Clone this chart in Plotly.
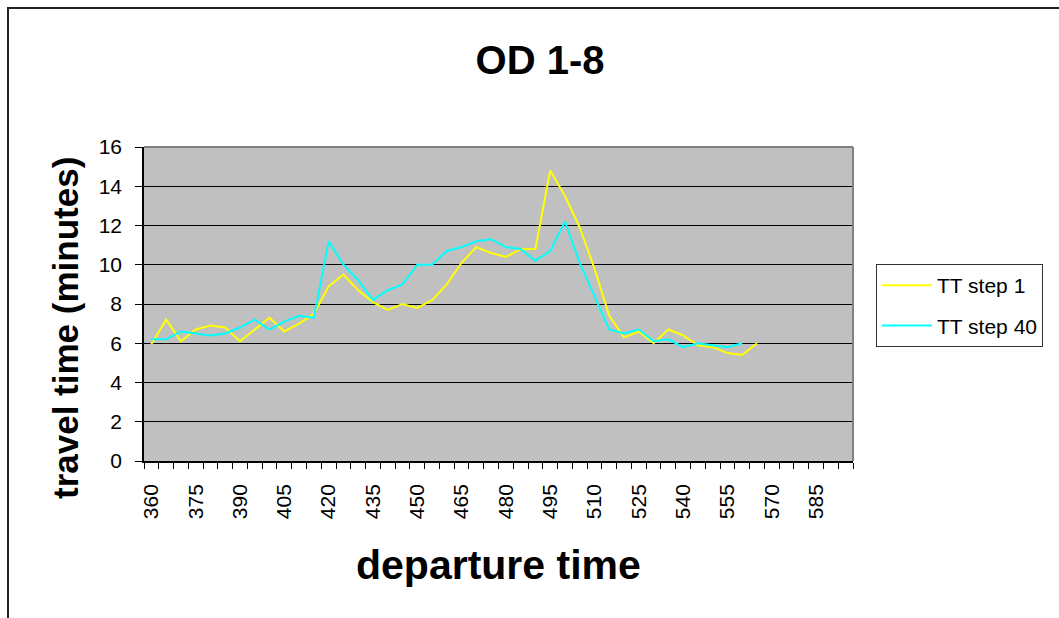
import plotly.graph_objects as go

# departure time categories (minutes), 5-minute steps
departure = list(range(360, 600, 5))  # 360..595
tick_labels = list(range(360, 600, 15))[:16]  # 360..585

tt_step1 = [5.95, 7.2, 6.1, 6.7, 6.9, 6.8, 6.1, 6.7, 7.3, 6.6, 7.0, 7.5,
            8.9, 9.5, 8.7, 8.1, 7.7, 8.0, 7.8, 8.2, 9.0, 10.1, 10.9, 10.6,
            10.4, 10.8, 10.8, 14.8, 13.5, 11.9, 9.8, 7.4, 6.3, 6.6, 6.0, 6.7,
            6.4, 5.9, 5.8, 5.5, 5.4, 6.0]
tt_step40 = [6.2, 6.2, 6.6, 6.5, 6.4, 6.5, 6.8, 7.2, 6.7, 7.1, 7.4, 7.3,
             11.2, 10.0, 9.2, 8.2, 8.7, 9.0, 10.0, 10.0, 10.7, 10.9, 11.2, 11.3,
             10.9, 10.8, 10.2, 10.7, 12.2, 10.1, 8.4, 6.7, 6.5, 6.7, 6.1, 6.2,
             5.8, 6.0, 5.9, 5.8, 6.0]

FONT = "Liberation Sans, Arial, sans-serif"

fig = go.Figure()
fig.add_trace(go.Scatter(x=departure[:len(tt_step1)], y=tt_step1, mode="lines",
                         name="TT step 1", legendgroup="a",
                         line=dict(color="#FFFF00", width=2)))
fig.add_trace(go.Scatter(x=departure[:len(tt_step40)], y=tt_step40, mode="lines",
                         name="TT step 40", legendgroup="b",
                         line=dict(color="#00FFFF", width=2)))

L, R, T, B = 144, 853, 147, 461
W, H = 1059, 618
pw, ph = R - L, B - T

def px(x):
    return (x - L) / pw

def py(y):
    return (B - y) / ph

fig.update_layout(
    width=W, height=H,
    margin=dict(l=L, r=W - R, t=T, b=H - B, pad=0),
    paper_bgcolor="white",
    plot_bgcolor="#C0C0C0",
    font=dict(family=FONT, color="black"),
    showlegend=True,
    title=dict(text="<b>OD 1-8</b>", x=540 / W, xanchor="center",
               y=1 - 60 / H, yanchor="middle",
               font=dict(family=FONT, size=40, color="black")),
    legend=dict(x=px(876), xanchor="left", y=py(264), yanchor="top",
                bgcolor="white", bordercolor="#333333", borderwidth=1,
                font=dict(family=FONT, size=21, color="black"),
                tracegroupgap=10, itemwidth=50),
    xaxis=dict(
        range=[357.5, 597.5],
        tickmode="array", tickvals=tick_labels,
        ticktext=[str(v) for v in tick_labels],
        tickangle=-90, ticks="", ticklabelstandoff=13,
        tickfont=dict(family=FONT, size=21, color="black"),
        showgrid=False, zeroline=False,
        showline=True, linecolor="black", linewidth=1.5,
        minor=dict(tick0=357.5, dtick=5, ticks="outside", ticklen=6,
                   tickcolor="black", tickwidth=1, showgrid=False),
    ),
    yaxis=dict(
        range=[0, 16], dtick=2, tick0=0,
        ticks="outside", ticklen=7, tickcolor="black", tickwidth=1,
        ticklabelstandoff=9,
        tickfont=dict(family=FONT, size=21, color="black"),
        showgrid=True, gridcolor="black", gridwidth=1,
        zeroline=False,
        showline=True, linecolor="black", linewidth=1.5,
    ),
    annotations=[
        dict(text="<b>departure time</b>", xref="paper", yref="paper",
             x=0.5, y=py(565), xanchor="center", yanchor="middle",
             showarrow=False, font=dict(family=FONT, size=41, color="black")),
        dict(text="<b>travel time (minutes)</b>", xref="paper", yref="paper",
             x=px(65), y=py(328), xanchor="center", yanchor="middle",
             textangle=-90, showarrow=False,
             font=dict(family=FONT, size=35, color="black")),
    ],
    shapes=[
        # plot area border (top/right grey)
        dict(type="line", xref="paper", yref="paper", x0=0, x1=1, y0=1, y1=1,
             line=dict(color="#808080", width=2)),
        dict(type="line", xref="paper", yref="paper", x0=1, x1=1, y0=0, y1=1,
             line=dict(color="#808080", width=2)),
        # outer chart border
        dict(type="rect", xref="paper", yref="paper",
             x0=px(8), x1=px(1075), y0=py(640), y1=py(8),
             line=dict(color="#222222", width=2), fillcolor="rgba(0,0,0,0)"),
    ],
)

fig.write_html("out.html")
